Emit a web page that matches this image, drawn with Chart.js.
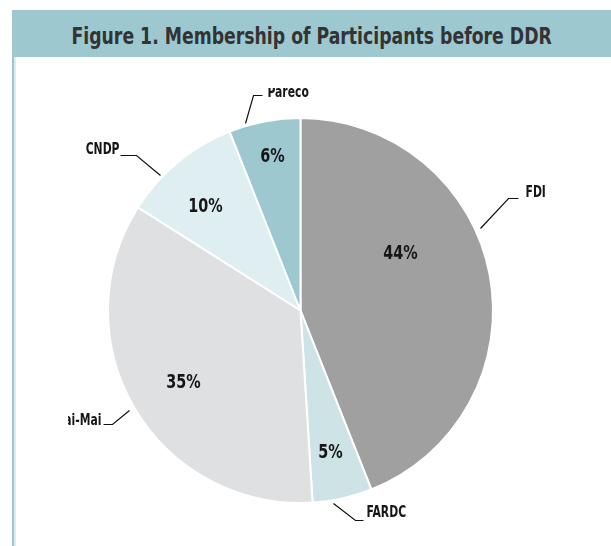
<!DOCTYPE html>
<html>
<head>
<meta charset="utf-8">
<script src="https://cdn.jsdelivr.net/npm/chart.js@4.4.0/dist/chart.umd.min.js"></script>
<style>
  html, body { margin: 0; padding: 0; background: #fff; }
  body { width: 611px; height: 546px; position: relative; overflow: hidden; }
  #band { position: absolute; left: 12px; top: 10px; width: 599px; height: 47px; background: #9dc8cf; }
  #title { position: absolute; left: 12px; top: 13px; width: 599px; height: 47px; line-height: 47px;
    text-align: center; white-space: nowrap; font-family: 'DejaVu Sans Condensed', sans-serif;
    font-weight: bold; font-size: 23px; color: #333; }
  #title span { display: inline-block; transform: scaleX(0.835); transform-origin: center; }
  #rule { position: absolute; left: 12px; top: 57px; width: 2px; height: 489px; background: #9fc5cc; }
  #rule2 { position: absolute; left: 14px; top: 57px; width: 2px; height: 489px; background: #dcecef; }
  #chart { position: absolute; left: 0; top: 0; }
</style>
</head>
<body>
<div id="band"></div>
<div id="title"><span>Figure 1. Membership of Participants before DDR</span></div>
<div id="rule"></div>
<div id="rule2"></div>
<canvas id="chart" width="611" height="546"></canvas>
<script>
// data (clockwise from 12 o'clock)
const categories = ['FDI', 'FARDC', 'Mai-Mai', 'CNDP', 'Pareco'];
const shares = [44, 5, 35, 10, 6];
const sliceColors = ['#a0a0a0', '#cde3e6', '#dfe0e2', '#dfeef1', '#9dc8cf'];

// hand placed annotations, offsets from the pie centre
const pctSpots = [[100, -57], [30, 142], [-117, 72], [-95, -104], [-28, -154]];
const leaders = [
  { pts: [[180, -82], [208, -112], [218, -112]], text: [225, -117], align: 'left' },
  { pts: [[33, 193], [55, 210], [63, 210]], text: [66, 203], align: 'left' },
  { pts: [[-171, 100], [-188, 114], [-197, 114]], text: [-199, 111], align: 'right' },
  { pts: [[-140, -135], [-164, -155], [-180, -155]], text: [-181, -160], align: 'right' },
  { pts: [[-55, -187], [-47, -215], [-38, -215]], text: [-33, -217], align: 'left' }
];

const FONT = "'DejaVu Sans Condensed', sans-serif";

// narrow text: the original uses a condensed face
function narrowText(ctx, str, x, y, squeeze) {
  ctx.save();
  ctx.translate(x, y);
  ctx.scale(squeeze, 1);
  ctx.fillText(str, 0, 0);
  ctx.restore();
}

const labelPlugin = {
  id: 'pieLabels',
  afterDraw(chart) {
    const ctx = chart.ctx;
    const arc = chart.getDatasetMeta(0).data[0];
    const cx = arc.x, cy = arc.y;
    ctx.save();
    ctx.fillStyle = '#161616';
    ctx.textAlign = 'center';
    ctx.textBaseline = 'middle';
    ctx.font = 'bold 20px ' + FONT;
    shares.forEach((v, i) => {
      narrowText(ctx, v + '%', cx + pctSpots[i][0], cy + pctSpots[i][1], 0.8);
    });

    // the source figure is cropped on the left and at the top
    ctx.beginPath();
    ctx.rect(68, 88, 611, 546);
    ctx.clip();
    ctx.strokeStyle = '#111';
    ctx.lineWidth = 1.2;
    ctx.font = 'bold 15px ' + FONT;
    leaders.forEach((l, i) => {
      ctx.beginPath();
      l.pts.forEach((p, j) => {
        if (j === 0) ctx.moveTo(cx + p[0], cy + p[1]);
        else ctx.lineTo(cx + p[0], cy + p[1]);
      });
      ctx.stroke();
      ctx.textAlign = l.align;
      narrowText(ctx, categories[i], cx + l.text[0], cy + l.text[1], 0.8);
    });
    ctx.restore();
  }
};

new Chart(document.getElementById('chart'), {
  type: 'pie',
  data: {
    labels: categories,
    datasets: [{
      data: shares,
      backgroundColor: sliceColors,
      borderColor: '#ffffff',
      borderWidth: 2
    }]
  },
  options: {
    responsive: false,
    devicePixelRatio: 1,
    animation: false,
    layout: { padding: { left: 107, right: 117, top: 117, bottom: 42 } },
    plugins: {
      legend: { display: false },
      tooltip: { enabled: false }
    }
  },
  plugins: [labelPlugin]
});
</script>
</body>
</html>
